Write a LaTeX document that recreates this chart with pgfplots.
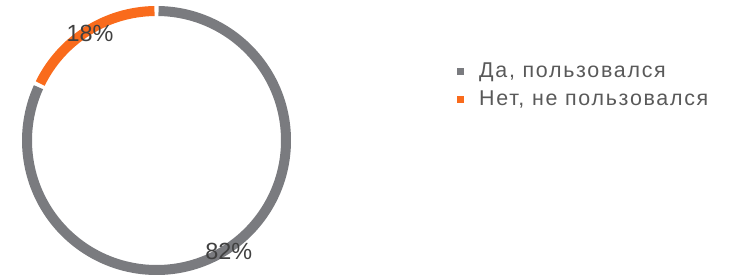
\documentclass[border=0pt]{standalone}
\usepackage{fontspec}
\setmainfont{Liberation Sans}
\newfontfamily\legfont[LetterSpace=8]{Liberation Sans}
\usepackage{pgfplots}
\usepackage{pgfplotstable}
\pgfplotsset{compat=1.18}
\definecolor{cgrey}{HTML}{7A7B7F}
\definecolor{corange}{HTML}{F96B1C}
\definecolor{ctext}{HTML}{404040}
\definecolor{clegend}{HTML}{595959}
\pgfplotstableread{
label value
yes 82
no 18
}\piedata
\begin{document}
\begin{tikzpicture}
\pgfplotstablegetelem{0}{value}\of\piedata \let\vA\pgfplotsretval
\pgfplotstablegetelem{1}{value}\of\piedata \let\vB\pgfplotsretval
\begin{axis}[
  hide axis, scale only axis, clip=false,
  width=738bp, height=276bp,
  xmin=0, xmax=738, ymin=0, ymax=276,
  legend style={draw=none, fill=none, at={(axis cs:457,214)}, anchor=north west,
    font=\legfont\fontsize{21.5}{24}\selectfont\color{clegend}, row sep=8bp,
    inner sep=0pt, column sep=0pt,
    nodes={inner sep=0pt, text height=15bp, text depth=5bp},
    cells={anchor=west}},
  legend image code/.code={\fill[#1,draw=none] (0bp,-2.7bp) rectangle (7bp,4bp); \path[draw=none,fill=none] (0,0) rectangle (22bp,0.1bp);},
]
\addlegendimage{cgrey}
\addlegendentry{Да, пользовался}
\addlegendimage{corange}
\addlegendentry{Нет, не пользовался}
\pgfmathsetmacro\cx{156.5}
\pgfmathsetmacro\cy{135.5}
\pgfmathsetmacro\rr{129.5}
\pgfmathsetmacro\g{0.9}
% grey: clockwise from top
\pgfmathsetmacro\aS{90-\g}
\pgfmathsetmacro\aE{90-\vA*3.6+\g}
\draw[line width=10bp, cgrey] (axis cs:{\cx+\rr*cos(\aS)},{\cy+\rr*sin(\aS)}) arc[start angle=\aS, end angle=\aE, radius=\rr bp];
% orange
\pgfmathsetmacro\bS{90-\vA*3.6-\g}
\pgfmathsetmacro\bE{90-\vA*3.6-\vB*3.6+\g}
\draw[line width=10bp, corange] (axis cs:{\cx+\rr*cos(\bS)},{\cy+\rr*sin(\bS)}) arc[start angle=\bS, end angle=\bE, radius=\rr bp];
% labels
\pgfmathsetmacro\mA{90-\vA*1.8}
\pgfmathsetmacro\mB{90-\vA*3.6-\vB*1.8}
\node[font=\fontsize{23.5}{24}\selectfont, text=ctext, inner sep=0pt] at (axis cs:{\cx+\rr*cos(\mA)+3},{\cy+\rr*sin(\mA)-2}) {\vA\%};
\node[font=\fontsize{23.5}{24}\selectfont, text=ctext, inner sep=0pt] at (axis cs:{\cx+\rr*cos(\mB)+3},{\cy+\rr*sin(\mB)-2}) {\vB\%};
\end{axis}
\pgfresetboundingbox
\path (current axis.south west) rectangle (current axis.north east);
\end{tikzpicture}
\end{document}
